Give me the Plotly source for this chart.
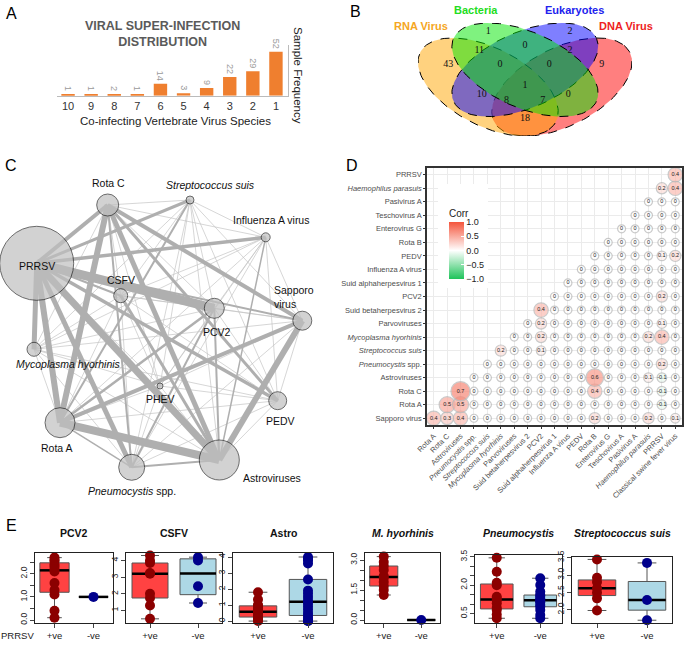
import numpy as np
import plotly.graph_objects as go

W, H = 685, 645
FONT = "Liberation Sans, Arial, Helvetica, sans-serif"


def fx(px):
    return px / W


def fy(py):
    return 1 - py / H


# ---------------- A: co-infection distribution
coinf_labels = ["10", "9", "8", "7", "6", "5", "4", "3", "2", "1"]
sample_freq = [1, 1, 2, 1, 14, 3, 9, 22, 29, 52]

# ---------------- B: venn
venn_names = ["RNA Virus", "Bacteria", "Eukaryotes", "DNA Virus"]
venn_fill = ["rgba(255,165,0,0.5)", "rgba(0,230,0,0.5)", "rgba(0,0,255,0.5)", "rgba(255,0,0,0.5)"]
venn_text_col = ["#F5A623", "#22DD22", "#2222EE", "#EE2222"]
venn_counts = [43, 1, 2, 9, 11, 0, 2, 0, 0, 1, 10, 0, 8, 7, 18]
# label spots of the 15 regions (venn units)
venn_pos_x = [0.188, 0.351, 0.683, 0.812, 0.314, 0.5, 0.683, 0.398, 0.599, 0.5, 0.324, 0.676, 0.425, 0.572, 0.5]
venn_pos_y = [0.598, 0.791, 0.791, 0.598, 0.685, 0.714, 0.685, 0.598, 0.598, 0.481, 0.429, 0.429, 0.39, 0.39, 0.284]

# ---------------- C: network
net_nodes = ["PRRSV", "Rota C", "Streptococcus suis", "Influenza A virus", "CSFV", "PCV2",
             "Sapporo virus", "Mycoplasma hyorhinis", "PHEV", "PEDV", "Rota A",
             "Pneumocystis spp.", "Astroviruses"]
node_x = [36.7, 107.7, 190, 265.7, 120.7, 214.3, 302.3, 34, 160, 277.7, 60, 131.7, 219.3]
node_y = [263.3, 205, 200, 237.3, 295.7, 308.3, 320.7, 349.3, 386, 400.7, 422.7, 467.3, 460]
node_size = [74, 22, 8, 9, 14, 20, 19, 14, 6, 18, 30, 26, 40]
strong_edges = [
    ("PRRSV", "PCV2", 9), ("PRRSV", "Astroviruses", 7), ("PRRSV", "Rota A", 6),
    ("PRRSV", "Pneumocystis spp.", 5), ("PRRSV", "Mycoplasma hyorhinis", 5),
    ("PRRSV", "Rota C", 4), ("PRRSV", "Influenza A virus", 3.5), ("PRRSV", "Streptococcus suis", 3),
    ("PRRSV", "PEDV", 3.5), ("PRRSV", "Sapporo virus", 2), ("PRRSV", "CSFV", 2),
    ("Rota A", "Astroviruses", 8), ("Rota A", "Rota C", 6), ("Rota C", "Astroviruses", 5),
    ("Rota C", "Sapporo virus", 4), ("Rota C", "Pneumocystis spp.", 2), ("Rota C", "PEDV", 3),
    ("Astroviruses", "Sapporo virus", 6), ("Rota A", "Sapporo virus", 4),
    ("Astroviruses", "CSFV", 3), ("Astroviruses", "PCV2", 2), ("Astroviruses", "Pneumocystis spp.", 2),
    ("Rota A", "PCV2", 2.5), ("Pneumocystis spp.", "PCV2", 2), ("Streptococcus suis", "Rota A", 2),
    ("Astroviruses", "Influenza A virus", 1.5), ("Rota A", "Pneumocystis spp.", 1.5),
]
net_labels = ["PRRSV", "Rota C", "<i>Streptococcus suis</i>", "Influenza A virus", "CSFV", "PCV2",
              "Sapporo<br>virus", "<i>Mycoplasma hyorhinis</i>", "PHEV", "PEDV", "Rota A",
              "<i>Pneumocystis</i> spp.", "Astroviruses"]
label_x = [36.7, 108, 210, 270.7, 120.7, 216.7, 272, 68.3, 160, 280, 56.7, 131.7, 271.7]
label_y = [266, 183, 185, 220, 280, 331.7, 297, 364.3, 399, 420.7, 448.3, 490.7, 478.3]

# ---------------- D: correlation
corr_cols = ["Rota A", "Rota C", "Astroviruses", "<i>Pneumocystis</i> spp.", "<i>Streptococcus suis</i>",
             "<i>Mycoplasma hyorhinis</i>", "Parvoviruses", "Suid betaherpesvirus 2", "PCV2",
             "Suid alphaherpesvirus 1", "Influenza A virus", "PEDV", "Rota B", "Enterovirus G",
             "Teschovirus A", "Pasivirus A", "<i>Haemophilus parasuis</i>", "PRRSV",
             "Classical swine fever virus"]
corr_rows = ["Sapporo virus", "Rota A", "Rota C", "Astroviruses", "<i>Pneumocystis</i> spp.",
             "<i>Streptococcus suis</i>", "<i>Mycoplasma hyorhinis</i>", "Parvoviruses",
             "Suid betaherpesvirus 2", "PCV2", "Suid alphaherpesvirus 1", "Influenza A virus",
             "PEDV", "Rota B", "Enterovirus G", "Teschovirus A", "Pasivirus A",
             "<i>Haemophilus parasuis</i>", "PRRSV"]
# row r holds the values for columns r..18
corr_vals = [
    [0.4, 0.3, 0.4, 0, 0, 0, 0, 0, 0, 0, 0, 0, 0.2, 0, 0, 0, 0.2, 0, 0.1],
    [0.5, 0.5, 0, 0, 0, 0, 0, 0, 0, 0, 0, 0, 0, 0, 0, 0, -0.1, 0],
    [0.7, 0, 0, 0, 0, 0, 0, 0, 0, 0, 0.4, 0, 0, 0, 0, -0.1, 0],
    [0, 0, 0, 0, 0, 0, 0, 0, 0, 0.6, 0, 0, 0, 0.1, -0.1, 0],
    [0, 0, 0, 0, 0, 0, 0, 0, 0, 0, 0, 0, 0, 0.2, 0],
    [0.2, 0, 0, 0.1, 0, 0, 0, 0, 0, 0, 0, 0, 0, 0],
    [0, 0, 0.2, 0, 0, 0, 0, 0, 0, 0, 0.2, 0.4, 0],
    [0, 0.2, 0, 0, 0, 0, 0, 0, 0, 0, 0.1, 0],
    [0.4, 0, 0, 0, 0, 0, 0, 0, 0, 0, 0],
    [0, 0, 0, 0, 0, 0, 0, 0, 0.2, 0],
    [0, 0, 0, 0, 0, 0, 0, 0, 0],
    [0, 0, 0, 0, 0, 0, 0, 0],
    [0, 0, 0, 0, 0, 0.1, 0.2],
    [0, 0, 0, 0, 0, 0],
    [0, 0, 0, 0, 0],
    [0, 0, 0, 0],
    [0, 0, 0],
    [0.2, 0.4],
    [0.4],
]

# ---------------- E: box plots (PRRSV +ve / -ve)
e_titles = ["PCV2", "CSFV", "Astro", "<i>M. hyorhinis</i>", "<i>Pneumocystis</i>", "<i>Streptococcus suis</i>"]
pcv2_pos = [0.1, 0.4, 1.1, 1.3, 1.6, 2.1, 2.2, 2.3, 2.4, 2.55, 2.6, 2.7]
pcv2_neg = [1.0]
csfv_pos = [0.5, 1.3, 1.75, 2.0, 3.2, 3.25, 3.85, 4.0, 4.3]
csfv_neg = [1.45, 2.45, 4.0, 4.2]
astro_pos = [0.0, 0.05, 0.15, 0.25, 0.35, 0.45, 0.55, 0.6, 0.7, 0.8, 0.95, 1.0, 1.35, 1.8]
astro_neg = [0.0, 0.0, 0.05, 0.2, 0.35, 0.5, 0.7, 0.9, 1.1, 1.3, 1.5, 1.7, 1.9, 2.6, 3.6, 3.8, 3.9, 4.0]
mhyo_pos = [1.25, 1.5, 1.7, 1.9, 2.1, 2.2, 2.5, 2.7, 2.9, 3.17]
mhyo_neg = [0.0]
pneumo_pos = [0.25, 0.45, 0.69, 0.8, 1.04, 1.2, 1.3, 1.39, 2.0, 2.13, 2.71, 3.45]
pneumo_neg = [0.25, 0.42, 0.69, 0.86, 0.95, 1.1, 1.18, 1.22, 1.3, 1.43, 1.48, 1.66, 2.01, 2.37]
strep_pos = [1.98, 2.33, 2.49, 2.62, 2.8, 2.92, 3.45]
strep_neg = [1.7, 2.28, 3.35]

fig = go.Figure()
layout = dict(template="none", width=W, height=H, margin=dict(l=0, r=0, t=0, b=0, pad=0),
              autosize=False, paper_bgcolor="white", plot_bgcolor="white", showlegend=False,
              font=dict(family=FONT, color="#222"), boxmode="overlay")
ann = []


def note(px, py, text, size, color="#222", angle=0, family=None):
    f = dict(size=size, color=color)
    if family:
        f["family"] = family
    return dict(x=fx(px), y=fy(py), xref="paper", yref="paper", showarrow=False, text=text,
                xanchor="center", yanchor="middle", textangle=angle, font=f)


# ===== A
fig.add_trace(go.Bar(x=list(range(len(sample_freq))), y=sample_freq, marker_color="#EF7F2F",
                     marker_line_width=0, width=0.58, text=[str(v) for v in sample_freq],
                     textposition="outside", textangle=90, constraintext="none", cliponaxis=False,
                     textfont=dict(size=9, color="#9A9A9A"), xaxis="x", yaxis="y"))
layout["xaxis"] = dict(domain=[fx(56.5), fx(287.5)], range=[-0.5, 9.5], tickvals=list(range(10)),
                       ticktext=coinf_labels, showline=True, linecolor="#BBBBBB", ticks="",
                       tickfont=dict(size=11, color="#333"), showgrid=False, zeroline=False,
                       anchor="y", automargin=False)
layout["yaxis"] = dict(domain=[fy(95.7), fy(44.9)], range=[0, 60], side="right", showline=True,
                       linecolor="#BBBBBB", showticklabels=False, showgrid=False, zeroline=False,
                       ticks="", anchor="x", automargin=False)
ann += [
    note(162, 34, "<b>VIRAL SUPER-INFECTION<br>DISTRIBUTION</b>", 12.5, "#5A5A5A"),
    note(175, 121, "Co-infecting Vertebrate Virus Species", 11.5),
    note(298, 75, "Sample Frequency", 11.5, angle=90),
]

# ===== B
t = np.linspace(0, 2 * np.pi, 160)
ell = [(0.35, 0.47, -45), (0.5, 0.57, -40), (0.5, 0.57, 40), (0.65, 0.47, 45)]
for k in [3, 0, 2, 1]:
    cx, cy, ang = ell[k]
    a, b = 0.35, 0.2
    th = np.deg2rad(ang)
    ex = cx + a * np.cos(t) * np.cos(th) - b * np.sin(t) * np.sin(th)
    ey = cy + a * np.cos(t) * np.sin(th) + b * np.sin(t) * np.cos(th)
    fig.add_trace(go.Scatter(x=ex, y=ey, mode="lines", fill="toself", fillcolor=venn_fill[k],
                             line=dict(color="black", width=1, dash="dash"), hoverinfo="skip",
                             xaxis="x2", yaxis="y2"))
fig.add_trace(go.Scatter(x=venn_pos_x, y=venn_pos_y, mode="text", text=[str(c) for c in venn_counts],
                         textfont=dict(size=10, color="#111", family="Liberation Serif, Times New Roman, serif"),
                         xaxis="x2", yaxis="y2"))
layout["xaxis2"] = dict(domain=[fx(418), fx(632)], range=[0.065, 0.935], visible=False, anchor="y2",
                        automargin=False)
layout["yaxis2"] = dict(domain=[fy(136), fy(23)], range=[0.185, 0.842], visible=False, anchor="x2",
                        automargin=False)
for name, col, px, py in zip(venn_names, venn_text_col, [421, 476, 574, 626], [26, 10, 10, 26]):
    ann.append(note(px, py, "<b>%s</b>" % name, 11, col))

# ===== C
idx = {n: i for i, n in enumerate(net_nodes)}
wmap = {}
for a_, b_, w in strong_edges:
    wmap[tuple(sorted((idx[a_], idx[b_])))] = w
groups = {}
for i in range(len(net_nodes)):
    for j in range(i + 1, len(net_nodes)):
        w = wmap.get((i, j), 0.7)
        groups.setdefault(w, []).append((i, j))
for w in sorted(groups):
    xs, ys = [], []
    for i, j in groups[w]:
        xs += [node_x[i], node_x[j], None]
        ys += [node_y[i], node_y[j], None]
    fig.add_trace(go.Scatter(x=xs, y=ys, mode="lines", hoverinfo="skip",
                             line=dict(color="#AFAFAF" if w > 1 else "#C4C4C4", width=w),
                             xaxis="x3", yaxis="y3"))
fig.add_trace(go.Scatter(x=node_x, y=node_y, mode="markers",
                         marker=dict(size=node_size, color="#C0C0C0", line=dict(color="black", width=0.8)),
                         xaxis="x3", yaxis="y3"))
layout["xaxis3"] = dict(domain=[0, fx(330)], range=[0, 330], visible=False, anchor="y3", automargin=False)
layout["yaxis3"] = dict(domain=[fy(510), fy(150)], range=[510, 150], visible=False, anchor="x3",
                        automargin=False)
for lab, lx, ly in zip(net_labels, label_x, label_y):
    ann.append(dict(x=lx, y=ly, xref="x3", yref="y3", showarrow=False, text=lab,
                    xanchor="left" if "Sapporo" in lab else "center", yanchor="middle", align="left",
                    font=dict(size=10.5, color="#111")))

# ===== D
cx_, cy_, cv_ = [], [], []
for r, vals in enumerate(corr_vals):
    for k, v in enumerate(vals):
        cx_.append(r + k)
        cy_.append(r)
        cv_.append(v)
cv_ = np.array(cv_)
fig.add_trace(go.Scatter(
    x=cx_, y=cy_, mode="markers+text", text=["%g" % v for v in cv_],
    textfont=dict(size=5.5, color="#222"),
    marker=dict(size=8 + 16 * np.abs(cv_), color=cv_, cmin=-1, cmax=1,
                colorscale=[[0, "#1FC35A"], [0.5, "#FFFFFF"], [1, "#F4553C"]],
                line=dict(color="#B5B5B5", width=1.2), showscale=True,
                colorbar=dict(x=fx(449), xanchor="left", y=fy(242.5), yanchor="middle",
                              lenmode="pixels", len=73, thickness=15, xpad=0, ypad=0,
                              outlinewidth=0, tickvals=[-1, -0.5, 0, 0.5, 1],
                              ticktext=["\u22121.0", "\u22120.5", "0.0", "0.5", "1.0"],
                              ticks="inside", tickcolor="white", ticklen=3,
                              tickfont=dict(size=9, color="#222"),
                              title=dict(text="Corr", side="top", font=dict(size=10, color="#222")))),
    xaxis="x4", yaxis="y4"))
ax_d = dict(range=[-0.5, 18.5], tickvals=list(range(19)), showgrid=True, gridcolor="#EBEBEB",
            gridwidth=1.3, ticks="outside", ticklen=2, tickcolor="#333", showline=True, mirror=True,
            linecolor="#333", linewidth=1.5, zeroline=False, tickfont=dict(size=7.5, color="#4D4D4D"),
            automargin=False)
layout["xaxis4"] = dict(ax_d, domain=[fx(427), fx(682)], ticktext=corr_cols, tickangle=-45, anchor="y4")
layout["yaxis4"] = dict(ax_d, domain=[fy(425), fy(168)], ticktext=corr_rows, anchor="x4")

# ===== E
e_data = [(pcv2_pos, pcv2_neg), (csfv_pos, csfv_neg), (astro_pos, astro_neg),
          (mhyo_pos, mhyo_neg), (pneumo_pos, pneumo_neg), (strep_pos, strep_neg)]
e_frames = [(35, 113, 553), (126, 222, 553), (233, 333, 553), (365, 440, 553), (475, 562, 555), (572, 672, 557)]
e_ranges = [[-0.13, 2.9], [0.25, 4.45], [-0.12, 4.25], [-0.15, 3.35], [0.0, 3.6], [1.62, 3.52]]
e_ticks = [
    ([0, 0.5, 1, 1.5, 2, 2.5], ["0.0", "", "1.0", "", "2.0", ""]),
    ([1, 2, 3, 4], ["1", "2", "3", "4"]),
    ([0, 1, 2, 3, 4], ["0", "1", "2", "3", "4"]),
    ([0, 0.5, 1, 1.5, 2, 2.5, 3], ["0.0", "", "", "1.5", "", "", "3.0"]),
    ([0.5, 1, 1.5, 2, 2.5, 3, 3.5], ["0.5", "", "", "2.0", "", "", "3.5"]),
    ([2, 2.5, 3, 3.5], ["2.0", "2.5", "3.0", "3.5"]),
]
for p, ((pos, neg), (x0, x1, y0), rng, (tv, tt), title) in enumerate(
        zip(e_data, e_frames, e_ranges, e_ticks, e_titles)):
    xa, ya = "x%d" % (p + 5), "y%d" % (p + 5)
    for c, vals, fill, pc in [(1, pos, "#FF4242", "#8B0000"), (2, neg, "#ADD8E6", "#00008B")]:
        fig.add_trace(go.Box(x=[c] * len(vals), y=vals, width=0.75, fillcolor=fill, boxpoints=False,
                             quartilemethod="inclusive", line=dict(color="#555555", width=1),
                             whiskerwidth=0.5, xaxis=xa, yaxis=ya))
        med = float(np.median(vals))
        fig.add_trace(go.Scatter(x=[c - 0.375, c + 0.375], y=[med, med], mode="lines",
                                 line=dict(color="black", width=2.5), xaxis=xa, yaxis=ya))
        fig.add_trace(go.Scatter(x=[c] * len(vals), y=vals, mode="markers", cliponaxis=False,
                                 marker=dict(size=10, color=pc), xaxis=xa, yaxis=ya))
    layout["xaxis%d" % (p + 5)] = dict(domain=[fx(x0), fx(x1)], range=[0.5, 2.5], tickvals=[1, 2],
                                       ticktext=["+ve", "-ve"], ticks="outside", ticklen=4,
                                       showline=True, mirror=True, linecolor="#222", linewidth=1,
                                       showgrid=False, zeroline=False, anchor=ya, automargin=False,
                                       tickfont=dict(size=9.5, color="#222"))
    layout["yaxis%d" % (p + 5)] = dict(domain=[fy(623), fy(y0)], range=rng, tickvals=tv, ticktext=tt,
                                       tickangle=-90, ticks="outside", ticklen=4, showline=True,
                                       mirror=True, linecolor="#222", linewidth=1, showgrid=False,
                                       zeroline=False, anchor=xa, automargin=False,
                                       tickfont=dict(size=8.5, color="#222"))
    ann.append(note((x0 + x1) / 2, 533, "<b>%s</b>" % title, 10.5, "#111"))
ann.append(note(17, 635, "PRRSV", 9.5))

# panel letters
for letter, px, py in [("A", 11, 13), ("B", 355, 12), ("C", 11, 165), ("D", 352, 165), ("E", 11, 525)]:
    ann.append(note(px, py, letter, 16, "black"))

layout["annotations"] = ann
layout["shapes"] = [dict(type="rect", xref="paper", yref="paper", x0=fx(438), x1=fx(488),
                         y0=fy(288), y1=fy(184), fillcolor="white", line=dict(width=0), layer="above")]
fig.update_layout(**layout)
fig.write_html("out.html", config={"displayModeBar": False},
               post_script="document.body.style.margin='0';document.body.style.overflow='hidden';")
